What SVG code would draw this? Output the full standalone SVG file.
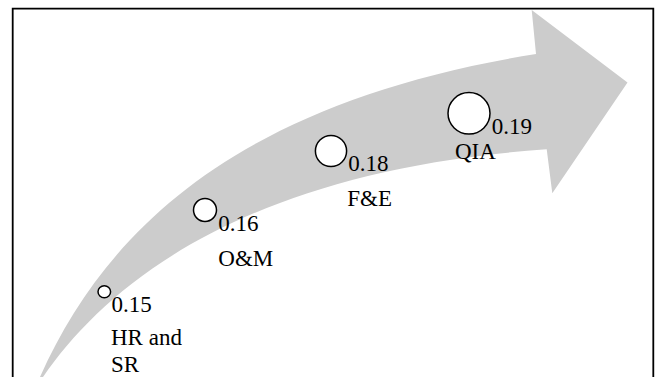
<svg xmlns="http://www.w3.org/2000/svg" width="656" height="377" viewBox="0 0 656 377">
<style>
text{font-family:'Liberation Serif','DejaVu Serif','Times New Roman',serif;font-size:23px;fill:#000}
.dot{fill:#fff;stroke:#000;stroke-width:1.5}
</style>
<rect x="0" y="0" width="656" height="377" fill="#fff"/>
<g id="frame">
<path d="M12.7,380 V8.7 H653.3 V380" fill="none" stroke="#000" stroke-width="1.8"/>
</g>
<g id="connectors">
<path id="arrow" d="M40,377 C110,220 250,100 536,54 L531.7,10 L627.5,82.5 L552.3,193.3 L546.7,149.3 C250,170 110,280 43,377 Z" fill="#cccccc"/>
</g>
<g id="node-hr" font-family="Liberation Serif, serif">
<ellipse class="dot" cx="104.3" cy="291.7" rx="6.3" ry="6"/>
<text x="111.5" y="311.7">0.15</text>
<text x="111" y="345">HR and</text>
<text x="111" y="371.7">SR</text>
</g>
<g id="node-om" font-family="Liberation Serif, serif">
<circle class="dot" cx="205" cy="210" r="11.5"/>
<text x="218.3" y="230.7">0.16</text>
<text x="218.3" y="266">O&amp;M</text>
</g>
<g id="node-fe" font-family="Liberation Serif, serif">
<circle class="dot" cx="331" cy="151" r="15.6"/>
<text x="348.3" y="170.7">0.18</text>
<text x="347.3" y="205.7">F&amp;E</text>
</g>
<g id="node-qia" font-family="Liberation Serif, serif">
<ellipse class="dot" cx="469" cy="113.3" rx="21" ry="20.7"/>
<text x="491.7" y="134.3">0.19</text>
<text x="455" y="159">QIA</text>
</g>
</svg>
